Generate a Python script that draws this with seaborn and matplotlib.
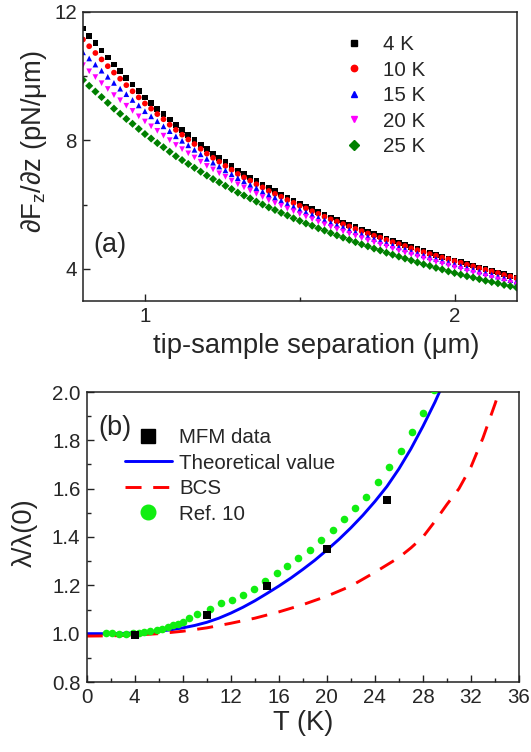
import matplotlib
matplotlib.use("Agg")
import matplotlib.pyplot as plt
from matplotlib.lines import Line2D
from matplotlib.ticker import MultipleLocator, FormatStrFormatter
import pandas as pd
import seaborn as sns

sns.set_style("ticks")
plt.rcParams["font.family"] = ["Liberation Sans", "DejaVu Sans"]
plt.rcParams["mathtext.fontset"] = "custom"
plt.rcParams["mathtext.rm"] = "Liberation Sans"
plt.rcParams["mathtext.it"] = "Liberation Sans:italic"
plt.rcParams["axes.edgecolor"] = "#222222"
plt.rcParams["axes.linewidth"] = 1.1

# ---- panel (a): force gradient vs tip-sample separation ----
sep_um = [0.80, 0.82, 0.84, 0.86, 0.88, 0.90, 0.92, 0.94, 0.96, 0.98,
          1.00, 1.02, 1.04, 1.06, 1.08, 1.10, 1.12, 1.14, 1.16, 1.18,
          1.20, 1.22, 1.24, 1.26, 1.28, 1.30, 1.32, 1.34, 1.36, 1.38,
          1.40, 1.42, 1.44, 1.46, 1.48, 1.50, 1.52, 1.54, 1.56, 1.58,
          1.60, 1.62, 1.64, 1.66, 1.68, 1.70, 1.72, 1.74, 1.76, 1.78,
          1.80, 1.82, 1.84, 1.86, 1.88, 1.90, 1.92, 1.94, 1.96, 1.98,
          2.00, 2.02, 2.04, 2.06, 2.08, 2.10, 2.12, 2.14, 2.16, 2.18,
          2.20]

grad_4K = [11.47, 11.24, 11.01, 10.79, 10.57, 10.35, 10.14, 9.93, 9.73, 9.53,
           9.33, 9.15, 8.98, 8.81, 8.64, 8.47, 8.31, 8.16, 8.01, 7.86,
           7.72, 7.58, 7.45, 7.32, 7.19, 7.06, 6.95, 6.84, 6.73, 6.62,
           6.51, 6.41, 6.31, 6.22, 6.12, 6.03, 5.94, 5.85, 5.77, 5.68,
           5.60, 5.52, 5.44, 5.37, 5.29, 5.22, 5.15, 5.08, 5.01, 4.94,
           4.87, 4.81, 4.74, 4.68, 4.61, 4.55, 4.49, 4.43, 4.37, 4.32,
           4.26, 4.21, 4.15, 4.10, 4.04, 3.99, 3.94, 3.89, 3.83, 3.78,
           3.73]
grad_10K = [11.13, 10.92, 10.71, 10.51, 10.30, 10.10, 9.91, 9.71, 9.52, 9.33,
            9.14, 8.98, 8.81, 8.65, 8.48, 8.32, 8.17, 8.02, 7.88, 7.73,
            7.58, 7.45, 7.33, 7.20, 7.08, 6.95, 6.84, 6.74, 6.63, 6.53,
            6.42, 6.33, 6.24, 6.14, 6.05, 5.96, 5.88, 5.79, 5.71, 5.62,
            5.54, 5.47, 5.39, 5.32, 5.24, 5.17, 5.10, 5.03, 4.97, 4.90,
            4.83, 4.77, 4.71, 4.64, 4.58, 4.52, 4.46, 4.41, 4.35, 4.30,
            4.24, 4.19, 4.13, 4.08, 4.02, 3.97, 3.92, 3.87, 3.81, 3.76,
            3.71]
grad_15K = [10.73, 10.54, 10.35, 10.16, 9.97, 9.78, 9.60, 9.43, 9.25, 9.08,
            8.90, 8.74, 8.59, 8.43, 8.28, 8.12, 7.98, 7.84, 7.70, 7.56,
            7.42, 7.30, 7.18, 7.06, 6.94, 6.82, 6.72, 6.61, 6.51, 6.40,
            6.30, 6.21, 6.12, 6.02, 5.93, 5.84, 5.76, 5.68, 5.59, 5.51,
            5.43, 5.36, 5.29, 5.21, 5.14, 5.07, 5.00, 4.93, 4.87, 4.80,
            4.73, 4.67, 4.61, 4.54, 4.48, 4.42, 4.36, 4.31, 4.25, 4.20,
            4.14, 4.09, 4.03, 3.98, 3.92, 3.87, 3.82, 3.76, 3.71, 3.65,
            3.60]
grad_20K = [10.33, 10.14, 9.96, 9.77, 9.59, 9.40, 9.24, 9.07, 8.91, 8.74,
            8.58, 8.43, 8.29, 8.14, 8.00, 7.85, 7.72, 7.59, 7.46, 7.33,
            7.20, 7.09, 6.97, 6.86, 6.74, 6.63, 6.53, 6.43, 6.33, 6.23,
            6.13, 6.04, 5.96, 5.87, 5.79, 5.70, 5.62, 5.54, 5.46, 5.38,
            5.30, 5.23, 5.16, 5.09, 5.02, 4.95, 4.88, 4.82, 4.75, 4.69,
            4.62, 4.56, 4.50, 4.44, 4.38, 4.32, 4.26, 4.21, 4.15, 4.10,
            4.04, 3.99, 3.93, 3.88, 3.82, 3.77, 3.72, 3.67, 3.61, 3.56,
            3.51]
grad_25K = [9.87, 9.69, 9.51, 9.34, 9.16, 8.98, 8.82, 8.66, 8.51, 8.35,
            8.19, 8.05, 7.91, 7.78, 7.64, 7.50, 7.38, 7.26, 7.14, 7.02,
            6.90, 6.79, 6.69, 6.58, 6.48, 6.37, 6.28, 6.19, 6.09, 6.00,
            5.91, 5.83, 5.74, 5.66, 5.57, 5.49, 5.41, 5.34, 5.26, 5.19,
            5.11, 5.04, 4.97, 4.90, 4.83, 4.76, 4.70, 4.63, 4.57, 4.50,
            4.44, 4.38, 4.32, 4.26, 4.20, 4.14, 4.09, 4.03, 3.98, 3.92,
            3.87, 3.82, 3.77, 3.73, 3.68, 3.63, 3.59, 3.55, 3.50, 3.46,
            3.42]

temps_a = ["4 K", "10 K", "15 K", "20 K", "25 K"]
colors_a = ["#000000", "#ff0000", "#0000ff", "#ff00ff", "#008000"]
markers_a = ["s", "o", "^", "v", "D"]

# ---- panel (b): penetration depth vs temperature ----
mfm_T = [4, 10, 15, 20, 25]
mfm_lam = [0.995, 1.076, 1.197, 1.351, 1.555]

theory_T = [0, 1, 2, 3, 4, 5, 6, 7, 8, 9, 10, 11, 12, 13, 14, 15, 16, 17, 18,
            19, 20, 21, 22, 23, 24, 25, 26, 27, 28, 29, 29.6]
theory_lam = [1.000, 1.000, 1.000, 1.001, 1.003, 1.006, 1.010, 1.016, 1.024,
              1.034, 1.047, 1.064, 1.085, 1.109, 1.136, 1.166, 1.197, 1.230,
              1.266, 1.304, 1.346, 1.390, 1.438, 1.490, 1.547, 1.609, 1.682,
              1.765, 1.858, 1.958, 2.025]

bcs_T = [0, 2, 4, 6, 8, 10, 12, 14, 16, 18, 20, 22, 24, 26, 27, 28, 29, 30,
         31, 32, 33, 34, 34.1]
bcs_lam = [0.990, 0.991, 0.994, 1.000, 1.010, 1.024, 1.043, 1.064, 1.090,
           1.120, 1.155, 1.197, 1.254, 1.315, 1.355, 1.400, 1.465, 1.535,
           1.600, 1.690, 1.810, 1.950, 1.965]

ref10_T = [1.58, 2.14, 2.70, 3.26, 3.83, 4.39, 4.76, 5.24, 5.88, 6.30, 6.73,
           7.15, 7.57, 8.05, 8.55, 9.18, 10.25, 11.15, 12.08, 12.98, 13.91,
           14.85, 15.83, 16.72, 17.62, 18.56, 19.55, 20.49, 21.46, 22.37,
           23.28, 24.23, 25.19, 26.17, 27.13, 28.04, 28.96]
ref10_lam = [1.002, 1.002, 0.998, 0.998, 1.002, 1.002, 1.007, 1.012, 1.016,
             1.021, 1.028, 1.035, 1.042, 1.049, 1.063, 1.080, 1.101, 1.126,
             1.139, 1.159, 1.186, 1.218, 1.249, 1.282, 1.313, 1.348, 1.387,
             1.431, 1.475, 1.519, 1.566, 1.629, 1.688, 1.757, 1.834, 1.912,
             2.008]

series_a = [grad_4K, grad_10K, grad_15K, grad_20K, grad_25K]
df_a = pd.DataFrame({
    "sep": sep_um * len(temps_a),
    "grad": [v for s in series_a for v in s],
    "T": [t for t in temps_a for _ in sep_um],
})

fig = plt.figure(figsize=(5.31, 7.52), dpi=100)
W, H = 531, 752
ax1 = fig.add_axes([83 / W, 1 - 301 / H, 433.5 / W, 289.5 / H])
ax2 = fig.add_axes([86.7 / W, 1 - 682 / H, 432.3 / W, 290 / H])

sns.scatterplot(data=df_a, x="sep", y="grad", hue="T", style="T",
                palette=dict(zip(temps_a, colors_a)),
                markers=dict(zip(temps_a, markers_a)),
                s=17, linewidth=0, legend=False, ax=ax1)

ax1.set_xlim(0.8, 2.2)
ax1.set_ylim(3, 12)
ax1.xaxis.set_major_locator(MultipleLocator(1))
ax1.xaxis.set_minor_locator(MultipleLocator(0.5))
ax1.yaxis.set_major_locator(MultipleLocator(4))
ax1.yaxis.set_minor_locator(MultipleLocator(2))
ax1.xaxis.set_major_formatter(FormatStrFormatter("%g"))
ax1.yaxis.set_major_formatter(FormatStrFormatter("%g"))
ax1.set_xlabel("tip-sample separation (μm)", fontsize=19.7)
ax1.set_ylabel(r"∂F$_{\mathrm{z}}$/∂z (pN/μm)", fontsize=19.7)
ax1.xaxis.set_label_coords(0.537, -0.112)
ax1.yaxis.set_label_coords(-0.078, 0.55)
ax1.text(0.023, 0.195, "(a)", transform=ax1.transAxes, fontsize=19.5,
         ha="left", va="center")

handles_a = [Line2D([], [], color=c, marker=m, linestyle="", markersize=4.6)
             for c, m in zip(colors_a, markers_a)]
ax1.legend(handles_a, temps_a, loc="upper left", bbox_to_anchor=(0.601, 0.919),
           frameon=False, fontsize=14.8, handlelength=1.0, handletextpad=0.91,
           labelspacing=0.32, borderpad=0, borderaxespad=0)

# panel (b)
sns.lineplot(x=theory_T, y=theory_lam, color="#0000ff", linewidth=2.1,
             sort=False, ax=ax2)
sns.lineplot(x=bcs_T, y=bcs_lam, color="#ff0000", linewidth=2.1,
             linestyle=(0, (5.5, 4.0)), sort=False, ax=ax2)
sns.scatterplot(x=ref10_T, y=ref10_lam, color="#11ee11", marker="o", s=30,
                linewidth=0, ax=ax2, zorder=3)
sns.scatterplot(x=mfm_T, y=mfm_lam, color="#000000", marker="s", s=26,
                linewidth=0, ax=ax2, zorder=4)

ax2.set_xlim(0, 36)
ax2.set_ylim(0.8, 2.0)
ax2.xaxis.set_major_locator(MultipleLocator(4))
ax2.xaxis.set_minor_locator(MultipleLocator(2))
ax2.yaxis.set_major_locator(MultipleLocator(0.2))
ax2.yaxis.set_minor_locator(MultipleLocator(0.1))
ax2.yaxis.set_major_formatter(FormatStrFormatter("%.1f"))
ax2.set_xlabel("T (K)", fontsize=19.7)
ax2.set_ylabel("λ/λ(0)", fontsize=19.7)
ax2.xaxis.set_label_coords(0.5, -0.098)
ax2.yaxis.set_label_coords(-0.113, 0.514)
ax2.text(0.026, 0.876, "(b)", transform=ax2.transAxes, fontsize=19.5,
         ha="left", va="center")

handles_b = [
    Line2D([], [], color="#000000", marker="s", linestyle="", markersize=9.5),
    Line2D([], [], color="#0000ff", linewidth=2.1),
    Line2D([], [], color="#ff0000", linewidth=2.1, linestyle=(0, (5.5, 4.0))),
    Line2D([], [], color="#11ee11", marker="o", linestyle="", markersize=10.5),
]
labels_b = ["MFM data", "Theoretical value", "BCS", "Ref. 10"]
ax2.legend(handles_b, labels_b, loc="upper left", bbox_to_anchor=(0.0886, 0.876),
           frameon=False, fontsize=14.8, handlelength=2.28, handletextpad=0.36,
           labelspacing=0.32, borderpad=0, borderaxespad=0)

for ax in (ax1, ax2):
    ax.tick_params(which="both", direction="in", top=False, right=False,
                   labelsize=14.8, pad=4.5, color="#222222")
    ax.tick_params(which="major", length=5, width=1)
    ax.tick_params(which="minor", length=3, width=1)
    for sp in ax.spines.values():
        sp.set_visible(True)

fig.savefig("out.png", dpi=100)
